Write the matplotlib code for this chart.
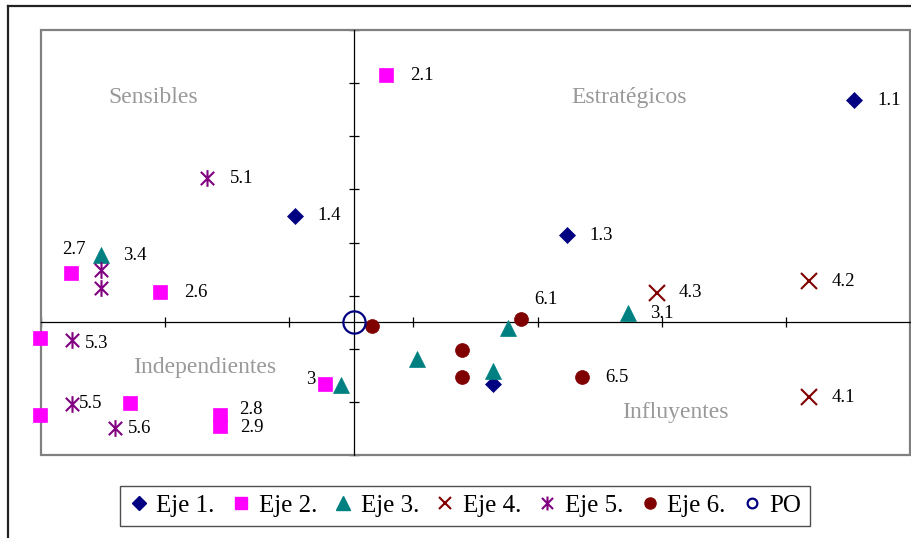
import numpy as np
import matplotlib
matplotlib.use("Agg")
import matplotlib.pyplot as plt
from matplotlib.lines import Line2D
from matplotlib.patches import Rectangle
from matplotlib.path import Path

plt.rcParams['font.family'] = ['Liberation Serif', 'DejaVu Serif']

# data
eje1_x = [4.03, 1.72, -0.47, 1.12]
eje1_y = [4.18, 1.64, 2.00, -1.17]
eje1_lab = ['1.1', '1.3', '1.4', '']

eje2_x = [0.26, -2.28, -1.56, -2.53, -2.53, -1.80, -1.08, -1.08, -0.23]
eje2_y = [4.65, 0.92, 0.56, -0.30, -1.75, -1.53, -1.75, -1.96, -1.17]
eje2_lab = ['2.1', '2.7', '2.6', '', '', '', '2.8', '2.9', '3']

eje3_x = [-2.04, -0.10, 0.51, 1.24, 1.12, 2.21]
eje3_y = [1.26, -1.19, -0.70, -0.11, -0.92, 0.17]
eje3_lab = ['3.4', '', '', '', '', '3.1']

eje4_x = [2.44, 3.67, 3.67]
eje4_y = [0.55, 0.77, -1.41]
eje4_lab = ['4.3', '4.2', '4.1']

eje5_x = [-1.18, -2.04, -2.04, -2.27, -2.27, -1.92]
eje5_y = [2.71, 0.98, 0.64, -0.34, -1.54, -2.00]
eje5_lab = ['5.1', '', '', '5.3', '5.5', '5.6']

eje6_x = [0.15, 1.35, 0.87, 0.87, 1.84]
eje6_y = [-0.08, 0.06, -0.53, -1.04, -1.04]
eje6_lab = ['', '6.1', '', '', '6.5']

po_x = [0.0]
po_y = [0.0]

series_names = ['Eje 1.', 'Eje 2.', 'Eje 3.', 'Eje 4.', 'Eje 5.', 'Eje 6.', 'PO']
quadrants = ['Sensibles', 'Estratégicos', 'Independientes', 'Influyentes']

# asterisk marker: X plus vertical bar
ast = Path([(-1, -1), (1, 1), (-1, 1), (1, -1), (0, -1.25), (0, 1.25)],
           [Path.MOVETO, Path.LINETO, Path.MOVETO, Path.LINETO, Path.MOVETO, Path.LINETO])

# label offsets (points)
offsets = {
    '1.1': (17, 0), '1.3': (16, 0), '1.4': (16, 0),
    '2.1': (17, 0), '2.7': (-6, 17), '2.6': (17, 0), '2.8': (14, 4),
    '2.9': (15, -1), '3': (-7, 3.5),
    '3.4': (16, 0), '3.1': (16, 0),
    '4.3': (16, 0), '4.2': (16, 0), '4.1': (16, 0),
    '5.1': (16.5, 0), '5.3': (9, -2), '5.5': (5, 0), '5.6': (9, 0),
    '6.1': (9, 14), '6.5': (16.5, 0),
}

styles = [
    dict(marker='D', ms=8, color='#000080', mec='#000080', mew=0.5),
    dict(marker='s', ms=9.5, color='#FF00FF', mec='#FF00FF', mew=0.5),
    dict(marker='^', ms=11.5, color='#008080', mec='#008080', mew=0.5),
    dict(marker='x', ms=11, color='#800000', mec='#800000', mew=1.5),
    dict(marker=ast, ms=12, color='#800080', mec='#800080', mew=1.5),
    dict(marker='o', ms=10, color='#800000', mec='#800000', mew=0.5),
]

fig = plt.figure(figsize=(9.12, 5.38), dpi=100)
ax = fig.add_axes([41 / 912, 1 - 455 / 538, 869 / 912, 425 / 538])

series = [(eje1_x, eje1_y, eje1_lab), (eje2_x, eje2_y, eje2_lab),
          (eje3_x, eje3_y, eje3_lab), (eje4_x, eje4_y, eje4_lab),
          (eje5_x, eje5_y, eje5_lab), (eje6_x, eje6_y, eje6_lab)]

for (xs, ys, labs), st in zip(series, styles):
    ax.plot(xs, ys, linestyle='none', clip_on=False, zorder=5, **st)
    for x, y, lab in zip(xs, ys, labs):
        if not lab:
            continue
        dx, dy = offsets[lab]
        ax.annotate(lab, (x, y), xytext=(dx, dy), textcoords='offset points',
                    ha='right' if lab == '3' else 'left', va='center',
                    fontsize=13.5, color='black', zorder=6)

ax.plot(po_x, po_y, linestyle='none', marker='o', ms=16, mfc='none',
        mec='#000080', mew=1.6, clip_on=False, zorder=7)

xmin, xmax = -2.52, 4.48
ax.set_xlim(xmin, xmax)
ax.set_ylim(-2.5, 5.5)
ax.set_xticks(np.arange(xmin, xmax + 0.01, 1.0))
ax.set_yticks(np.arange(-2.5, 5.6, 1.0))
ax.set_xticklabels([])
ax.set_yticklabels([])

for s in ['left', 'bottom']:
    ax.spines[s].set_position(('data', 0))
    ax.spines[s].set_color('black')
    ax.spines[s].set_linewidth(0.9)
    ax.spines[s].set_zorder(3)
ax.spines['top'].set_visible(False)
ax.spines['right'].set_visible(False)
ax.tick_params(direction='inout', length=7, width=0.9, color='black')
ax.add_patch(Rectangle((0, 0), 1, 1, transform=ax.transAxes, fill=False,
                       edgecolor='#808080', lw=1.6, clip_on=False, zorder=2))

qpos = [(0.129, 0.842), (0.677, 0.842), (0.188, 0.205), (0.730, 0.099)]
for name, (qx, qy) in zip(quadrants, qpos):
    ax.text(qx, qy, name, transform=ax.transAxes, ha='center', va='center',
            fontsize=17, color='#999999')

# legend
handles = [
    Line2D([], [], linestyle='none', marker='D', ms=7, color='#000080'),
    Line2D([], [], linestyle='none', marker='s', ms=8, color='#FF00FF'),
    Line2D([], [], linestyle='none', marker='^', ms=9.5, color='#008080'),
    Line2D([], [], linestyle='none', marker='x', ms=9, color='#800000', mew=1.5),
    Line2D([], [], linestyle='none', marker=ast, ms=10, color='#800080', mew=1.5),
    Line2D([], [], linestyle='none', marker='o', ms=8, color='#800000'),
    Line2D([], [], linestyle='none', marker='o', ms=7, mfc='none', mec='#000080', mew=1.6),
]
leg = fig.legend(handles, series_names, loc='center', ncol=7,
                 bbox_to_anchor=(465 / 912, 1 - 505.5 / 538),
                 fontsize=18, frameon=True, fancybox=False, edgecolor='#222222',
                 handlelength=0.8, handletextpad=0.3, columnspacing=0.65,
                 borderpad=0.35, borderaxespad=0)
leg.get_frame().set_linewidth(1.0)

# outer border
fig.add_artist(Line2D([8 / 912, 8 / 912], [0, 1 - 6 / 538], color='#222222', lw=1.6))
fig.add_artist(Line2D([8 / 912, 1], [1 - 6 / 538, 1 - 6 / 538], color='#222222', lw=1.6))

fig.savefig('out.png', dpi=100)
